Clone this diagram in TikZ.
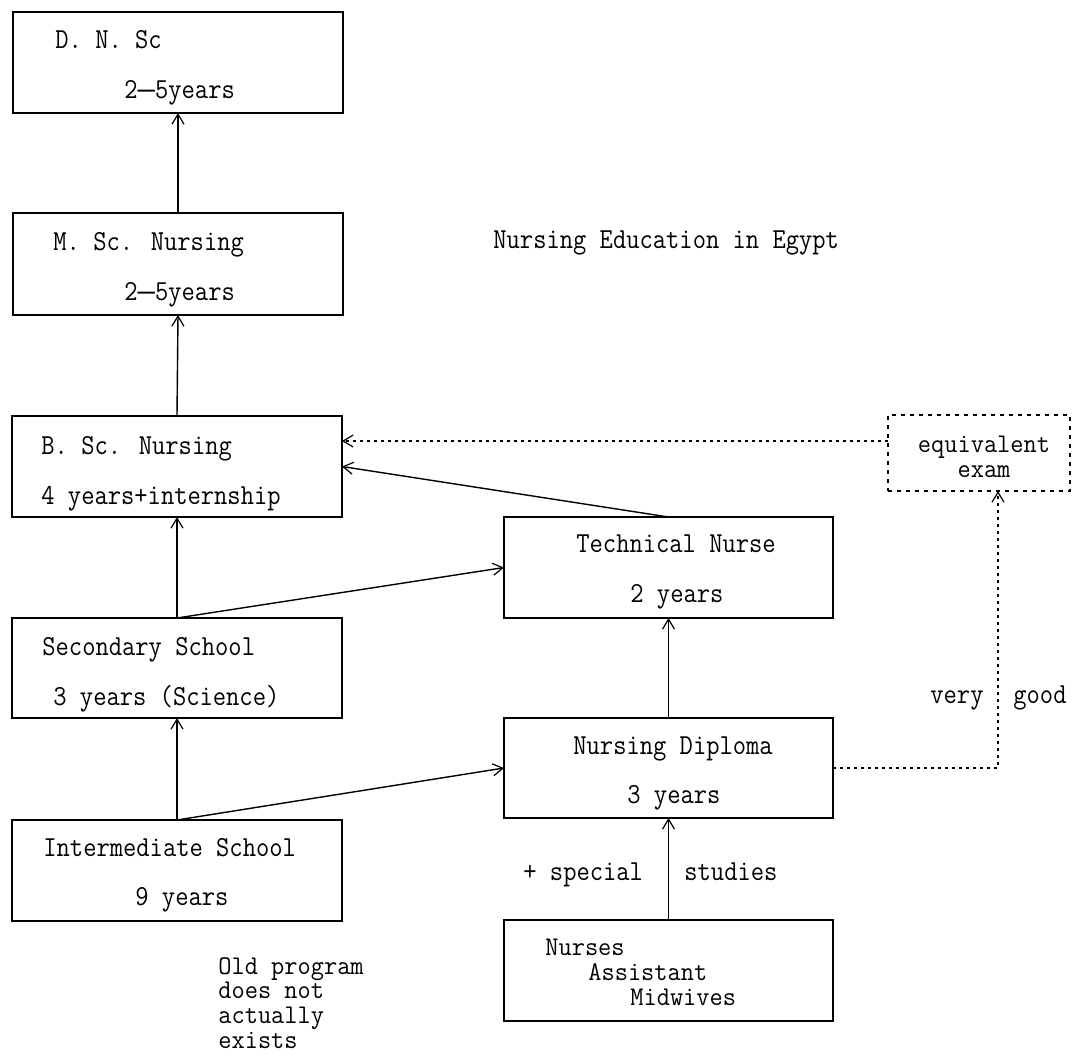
\documentclass[tikz,border=0pt]{standalone}
\usepackage{fontspec}
\newfontfamily\tw[FakeStretch=0.89]{Latin Modern Mono}
\newfontfamily\twb[FakeStretch=0.95]{Latin Modern Mono}
\newfontfamily\dashfont[FakeStretch=0.6]{Liberation Sans}
\newcommand\lgdash{{\dashfont —}}
\usetikzlibrary{arrows.meta,calc}
\begin{document}
\begin{tikzpicture}[x=0.5pt,y=-0.5pt,
  box/.style={draw, line width=0.8pt, inner sep=0pt, outer sep=0pt},
  dbox/.style={box, dash pattern=on 2pt off 2.5pt},
  txt/.style={font=\tw\fontsize{14.5pt}{12.5pt}\selectfont, inner sep=0pt, anchor=base west},
  mtxt/.style={txt, font=\twb\fontsize{13.5pt}{12.5pt}\selectfont},
  arr/.style={line width=0.7pt, -{Straight Barb[length=5pt,width=6pt,line width=0.6pt]}},
  darr/.style={arr, dash pattern=on 1.5pt off 2pt}]
\fill[white] (0,0) rectangle (1073,1062);
\useasboundingbox (0,0) rectangle (1073,1062);

% boxes
\node[box, minimum width=165pt, minimum height=50.5pt] (dnsc) at (178,62.5) {};
\node[box, minimum width=165pt, minimum height=51pt]   (msc)  at (178,264) {};
\node[box, minimum width=165pt, minimum height=50.5pt] (bsc)  at (177,466.5) {};
\node[box, minimum width=165pt, minimum height=50pt]   (sec)  at (177,668) {};
\node[box, minimum width=165pt, minimum height=50.5pt] (int)  at (177,870.5) {};
\node[box, minimum width=164.5pt, minimum height=50.5pt] (tn)  at (668.5,567.5) {};
\node[box, minimum width=164.5pt, minimum height=50pt]   (dip) at (668.5,768) {};
\node[box, minimum width=164.5pt, minimum height=50.5pt] (nur) at (668.5,970.5) {};
\node[dbox, minimum width=91pt, minimum height=38pt] (exam) at (979,453) {};

% texts
\node[txt] (dnsc1) at (55,48) {D. N. Sc};
\node[txt] (dnsc2) at (124,98) {2\lgdash5years};
\node[txt] (msc1) at (53,250) {M. Sc. Nursing};
\node[txt] (msc2) at (124,300) {2\lgdash5years};
\node[txt] (bsc1) at (41,454) {B. Sc. Nursing};
\node[txt] (bsc2) at (41,504) {4 years+internship};
\node[txt] (sec1) at (42,655) {Secondary School};
\node[txt] (sec2) at (53,705) {3 years (Science)};
\node[txt] (int1) at (43,856) {Intermediate School};
\node[txt] (int2) at (135,905) {9 years};
\node[txt] (tn1) at (576,552) {Technical Nurse};
\node[txt] (tn2) at (630,602) {2 years};
\node[txt] (dip1) at (573,754) {Nursing Diploma};
\node[txt] (dip2) at (627,803) {3 years};
\node[mtxt, align=left] (nurtxt) at (545,1005) {Nurses\\\hspace*{21.5pt}Assistant\\\hspace*{42.5pt}Midwives};
\node[mtxt, align=center, anchor=base] (examtxt) at (984,477) {equivalent\\exam};
\node[txt] (title) at (493,248) {Nursing Education in Egypt};
\node[txt] (spec) at (523,880) {+ special};
\node[txt] (stud) at (684,880) {studies};
\node[txt] (very) at (930,703) {very};
\node[txt] (good) at (1013,703) {good};
\node[mtxt, align=left, font=\twb\fontsize{13.5pt}{12.3pt}\selectfont] (old) at (218,1048) {Old program\\does not\\actually\\exists};

% connectors
\draw[arr] (msc.north) -- (dnsc.south);
\draw[arr] (bsc.north) -- (msc.south);
\draw[arr] (sec.north) -- (bsc.south);
\draw[arr] (int.north) -- (sec.south);
\draw[arr] (sec.north) -- (tn.west);
\draw[arr] (int.north) -- (dip.west);
\draw[arr] (tn.north) -- (bsc.east);
\draw[arr] (dip.north) -- (tn.south);
\draw[arr] (nur.north) -- (dip.south);
\draw[darr] ([yshift=6pt]exam.west) -- ([yshift=6pt]exam.west -| bsc.east);
\draw[darr] (dip.east) -| ([xshift=9.5pt]exam.south);
\end{tikzpicture}
\end{document}
